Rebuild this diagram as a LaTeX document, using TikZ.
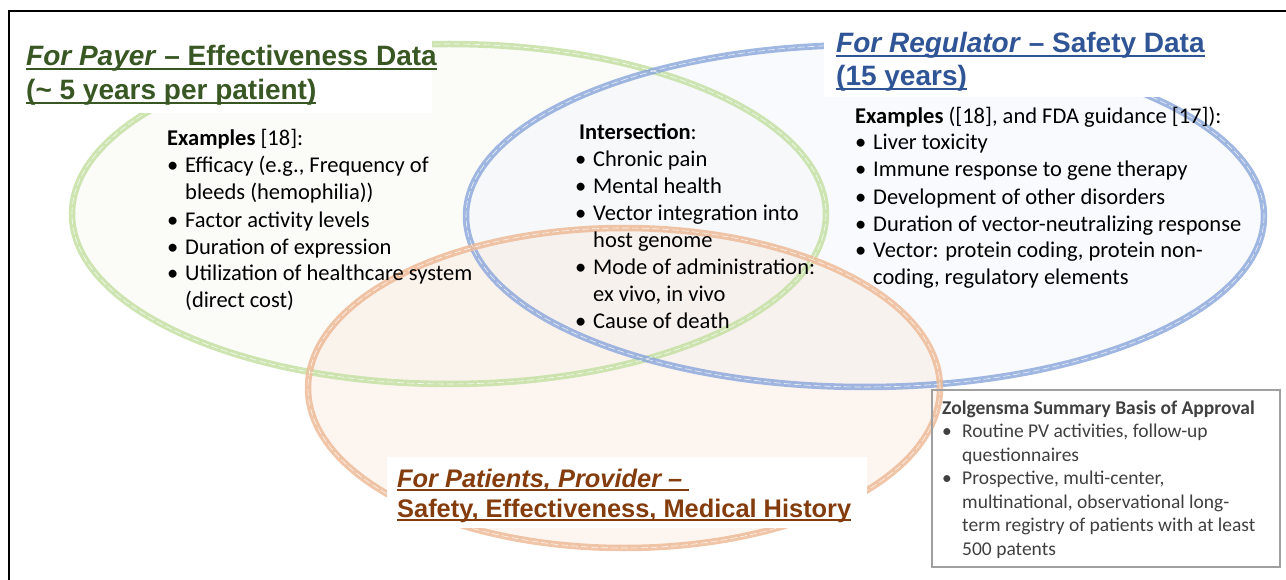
\documentclass[tikz,border=0pt]{standalone}
\usepackage{fontspec}
\setmainfont{Carlito}
\newfontfamily\headfont{Liberation Sans}

\definecolor{payerline}{RGB}{197,225,165}
\definecolor{payerfill}{RGB}{247,247,242}
\definecolor{payertext}{RGB}{56,87,35}
\definecolor{regline}{RGB}{143,170,220}
\definecolor{regfill}{RGB}{240,244,251}
\definecolor{regtext}{RGB}{47,85,151}
\definecolor{patline}{RGB}{238,187,152}
\definecolor{patfill}{RGB}{249,233,222}
\definecolor{pattext}{RGB}{132,60,12}
\definecolor{zolgray}{RGB}{64,64,64}

% bullet and hanging indent for the lists
\newcommand{\itm}{\makebox[18pt][l]{\textbullet}}
\newcommand{\cnt}{\hspace*{18pt}}
\newcommand{\zitm}{\makebox[20pt][l]{\textbullet}}
\newcommand{\zcnt}{\hspace*{20pt}}
% underlined heading line
\newsavebox{\hdbox}
\newcommand{\hd}[1]{\sbox{\hdbox}{#1}\rlap{\rule[-4pt]{\wd\hdbox}{2pt}}\usebox{\hdbox}}

\tikzset{
  ring/.style={line width=6.5pt, draw opacity=.85},
  seam/.style={draw=white, line width=.6pt, dash pattern=on 7pt off 3pt, draw opacity=.8},
  cover/.style={fill=white, draw=none},
  heading/.style={anchor=base west, align=left, inner sep=0pt,
    font=\headfont\bfseries\fontsize{28}{34}\selectfont},
  blurb/.style={anchor=base west, align=left, inner sep=0pt, font=\fontsize{22.5}{27}\selectfont},
  zolbox/.style={draw=gray!75, line width=1.5pt},
}

\begin{document}
\begin{tikzpicture}[x=1pt, y=-1pt]
        \useasboundingbox (0,0) rectangle (1286,580);

        % frame
        \draw[line width=1.5pt] (9,580) -- (9,11) -- (1286,11);

        % light fills
        \fill[payerfill, fill opacity=.5] (449,214) ellipse [x radius=377, y radius=170];
        \fill[regfill, fill opacity=.45] (865,216) ellipse [x radius=399, y radius=171];
        \fill[patfill, fill opacity=.45] (624,388) ellipse [x radius=316, y radius=160];

        % the three rings
        \draw[ring, payerline] (449,214) ellipse [x radius=377, y radius=170];
        \draw[ring, regline] (865,216) ellipse [x radius=399, y radius=171];
        \draw[ring, patline] (624,388) ellipse [x radius=316, y radius=160];
        \draw[seam] (449,214) ellipse [x radius=377, y radius=170];
        \draw[seam] (865,216) ellipse [x radius=399, y radius=171];
        \draw[seam] (624,388) ellipse [x radius=316, y radius=160];

        % white patches behind the headings
        \fill[cover] (20,30) rectangle (432,113);
        \fill[cover] (824,26) rectangle (1222,97);
        \fill[cover] (387,457) rectangle (867,528);

        % headings (anchored at the baseline of their last line)
        \node[heading, text=payertext] (payer) at (26,100)
          {\hd{\textit{For Payer} \textendash{} Effectiveness Data}\\\hd{(\textasciitilde{} 5 years per patient)}};
        \node[heading, text=regtext, font=\headfont\bfseries\fontsize{28}{33}\selectfont] (regulator) at (836,86)
          {\hd{\textit{For Regulator} \textendash{} Safety Data}\\\hd{(15 years)}};
        \node[heading, text=pattext, font=\headfont\bfseries\fontsize{25.4}{30}\selectfont] (patients) at (397,517)
          {\hd{\textit{For Patients, Provider \textendash{} }}\\\hd{Safety, Effectiveness, Medical History}};

        % lists
        \node[blurb] (payerlist) at (167,308)
          {\textbf{Examples} [18]:\\
           \itm Efficacy (e.g., Frequency of\\
           \cnt bleeds (hemophilia))\\
           \itm Factor activity levels\\
           \itm Duration of expression\\
           \itm Utilization of healthcare system\\
           \cnt (direct cost)};
        \node[blurb] (common) at (575,328)
          {\hspace*{4pt}\textbf{Intersection}:\\
           \itm Chronic pain\\
           \itm Mental health\\
           \itm Vector integration into\\
           \cnt host genome\\
           \itm Mode of administration:\\
           \cnt ex vivo, in vivo\\
           \itm Cause of death};
        \node[blurb] (reglist) at (855,285)
          {\textbf{Examples} ([18], and FDA guidance [17]):\\
           \itm Liver toxicity\\
           \itm Immune response to gene therapy\\
           \itm Development of other disorders\\
           \itm Duration of vector-neutralizing response\\
           \itm Vector: protein coding, protein non-\\
           \cnt coding, regulatory elements};

        % Zolgensma box
        \draw[zolbox] (932,390) rectangle (1280,567);
        \node[blurb, text=zolgray, font=\fontsize{19.5}{23.5}\selectfont] (zolgensma) at (942,555)
          {\textbf{Zolgensma Summary Basis of Approval}\\
           \zitm Routine PV activities, follow-up\\
           \zcnt questionnaires\\
           \zitm Prospective, multi-center,\\
           \zcnt multinational, observational long-\\
           \zcnt term registry of patients with at least\\
           \zcnt 500 patents};
\end{tikzpicture}
\end{document}
